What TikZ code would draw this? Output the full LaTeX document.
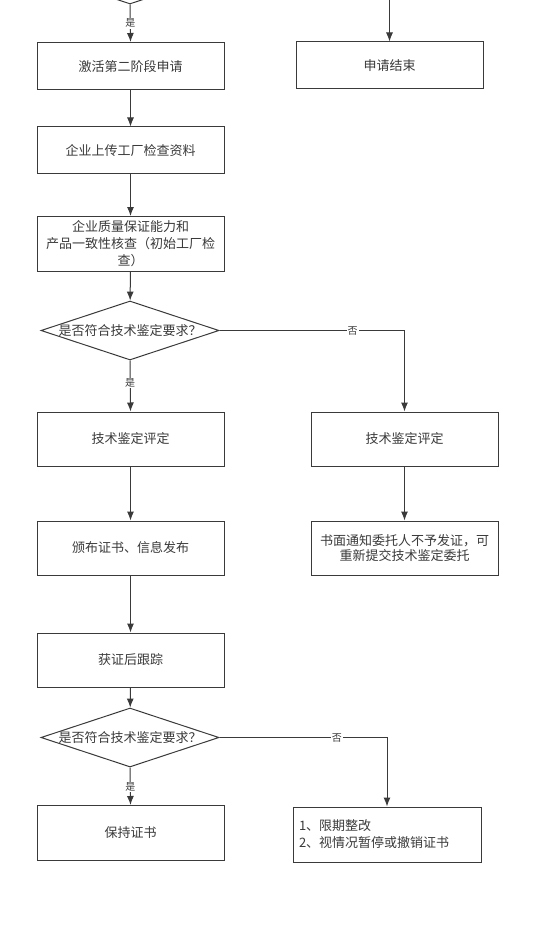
\documentclass[tikz,border=0pt]{standalone}
\usepackage{fontspec}
\setmainfont{Noto Sans CJK SC}
\usetikzlibrary{shapes.geometric,arrows.meta}
\definecolor{flowgray}{HTML}{3A3A3A}
\tikzset{
    stepbox/.style={draw=flowgray, line width=1pt, rectangle, minimum width=187pt, inner sep=0pt, align=center, text=flowgray, font=\fontsize{13}{17}\selectfont},
    judge/.style={draw=flowgray, line width=1pt, diamond, minimum width=178pt, minimum height=59pt, inner sep=0pt, text=flowgray, font=\fontsize{13}{17}\selectfont},
    flow/.style={->, draw=flowgray, line width=1pt},
    yesno/.style={fill=white, inner sep=1pt, text=flowgray, font=\fontsize{10}{12}\selectfont}
}
\begin{document}
\begin{tikzpicture}[>={Latex[length=9pt,width=7pt]}, x=1pt, y=-1pt]
\useasboundingbox[fill=white] (0,0) rectangle (559,928);
\node[judge] (panding0) at (130,-25.5) {};
\node[stepbox, minimum height=47.5pt] (jihuo) at (130.5,66.25) {激活第二阶段申请};
\node[stepbox, minimum height=47pt] (shangchuan) at (130.5,150.5) {企业上传工厂检查资料};
\node[stepbox, minimum height=54.5pt] (hecha) at (130.5,243.75) {企业质量保证能力和\\产品一致性核查（初始工厂检\\查）};
\node[judge] (panding1) at (130,330.5) {\makebox[0pt]{是否符合技术鉴定要求？}};
\node[stepbox, minimum height=54pt] (jianding) at (130.5,439) {技术鉴定评定};
\node[stepbox, minimum height=54pt] (banbu) at (130.5,548) {颁布证书、信息发布};
\node[stepbox, minimum height=54pt] (genzong) at (130.5,660) {获证后跟踪};
\node[judge] (panding2) at (130,737.5) {\makebox[0pt]{是否符合技术鉴定要求？}};
\node[stepbox, minimum height=54.5pt] (baochi) at (130.5,832.75) {保持证书};
\node[stepbox, minimum height=47pt] (jieshu) at (389.5,65.5) {申请结束};
\node[stepbox, minimum height=54pt] (jianding2) at (404.5,439) {技术鉴定评定};
\node[stepbox, minimum height=54pt, font=\fontsize{13}{15}\selectfont] (tongzhi) at (404.5,548) {书面通知委托人不予发证，可\\重新提交技术鉴定委托};
\node[stepbox, minimum width=188pt, minimum height=55pt, text width=176pt, align=left] (zhenggai) at (387,834.5) {1、限期整改\\2、视情况暂停或撤销证书};
\coordinate (top) at (389.5,0);
\draw[flow] (top) -- (jieshu.north);
\draw[flow] (panding0.south) -- node[yesno]{是} (jihuo.north);
\draw[flow] (jihuo) -- (shangchuan);
\draw[flow] (shangchuan) -- (hecha);
\draw[flow] (hecha) -- (panding1);
\draw[flow] (panding1.south) -- node[yesno, pos=0.44]{是} (jianding.north);
\draw[flow] (panding1.east) -| node[yesno, pos=0.36]{否} (jianding2.north);
\draw[flow] (jianding) -- (banbu);
\draw[flow] (banbu) -- (genzong);
\draw[flow] (genzong) -- (panding2);
\draw[flow] (jianding2) -- (tongzhi);
\draw[flow] (panding2.south) -- node[yesno, pos=0.52]{是} (baochi.north);
\draw[flow] (panding2.east) -| node[yesno, pos=0.35]{否} (zhenggai.north);
\end{tikzpicture}
\end{document}
